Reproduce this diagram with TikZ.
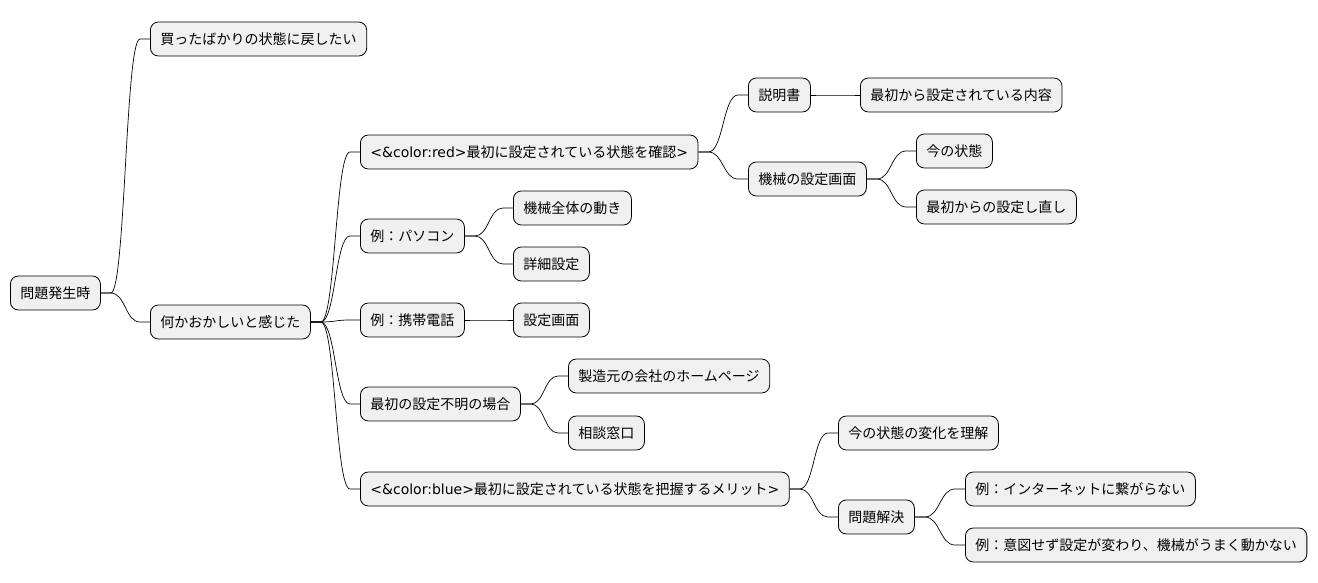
\documentclass[tikz,border=0pt]{standalone}
\usepackage{fontspec}
\setmainfont{Noto Sans CJK JP}
\newfontfamily\lat{DejaVu Sans}
\usetikzlibrary{calc}
\begin{document}
\begin{tikzpicture}[x=1pt,y=-1pt,
  n/.style={draw=black,fill=black!6,rounded corners=8pt,minimum height=34pt,inner xsep=10pt,anchor=west,font=\fontsize{14}{16}\selectfont,line width=0.8pt},
  e/.style={draw=black,line width=0.7pt}]
\useasboundingbox (0,0) rectangle (1318,583);
\node[n] (r) at (10,293) {問題発生時};
\node[n] (a) at (150,39) {買ったばかりの状態に戻したい};
\node[n] (b) at (150,322) {何かおかしいと感じた};
\node[n] (c) at (360,152) {{\lat\fontsize{14}{16}\selectfont <\&color:red>}最初に設定されている状態を確認{\lat\fontsize{14}{16}\selectfont >}};
\node[n] (c1) at (748,95) {説明書};
\node[n] (c11) at (860,95) {最初から設定されている内容};
\node[n] (c2) at (748,179) {機械の設定画面};
\node[n] (c21) at (916,151) {今の状態};
\node[n] (c22) at (916,207) {最初からの設定し直し};
\node[n] (d) at (360,236) {例：パソコン};
\node[n] (d1) at (513,208) {機械全体の動き};
\node[n] (d2) at (513,264) {詳細設定};
\node[n] (f) at (360,320) {例：携帯電話};
\node[n] (f1) at (513,320) {設定画面};
\node[n] (g) at (360,404) {最初の設定不明の場合};
\node[n] (g1) at (568,376) {製造元の会社のホームページ};
\node[n] (g2) at (568,433) {相談窓口};
\node[n] (h) at (360,489) {{\lat\fontsize{14}{16}\selectfont <\&color:blue>}最初に設定されている状態を把握するメリット{\lat\fontsize{14}{16}\selectfont >}};
\node[n] (h1) at (838,433) {今の状態の変化を理解};
\node[n] (h2) at (838,517) {問題解決};
\node[n] (h21) at (965,489) {例：インターネットに繋がらない};
\node[n] (h22) at (965,545) {例：意図せず設定が変わり、機械がうまく動かない};
\foreach \s/\t in {r/a,r/b,b/c,b/d,b/f,b/g,b/h,c/c1,c/c2,c1/c11,c2/c21,c2/c22,d/d1,d/d2,f/f1,g/g1,g/g2,h/h1,h/h2,h2/h21,h2/h22}{
  \draw[e] let \p1=(\s.east),\p2=(\t.west),\n1={0.5*\x1+0.5*\x2} in (\p1) -- (\x1+10pt,\y1) .. controls (\n1,\y1) and (\n1,\y2) .. (\x2-10pt,\y2) -- (\p2);
}
\end{tikzpicture}
\end{document}
